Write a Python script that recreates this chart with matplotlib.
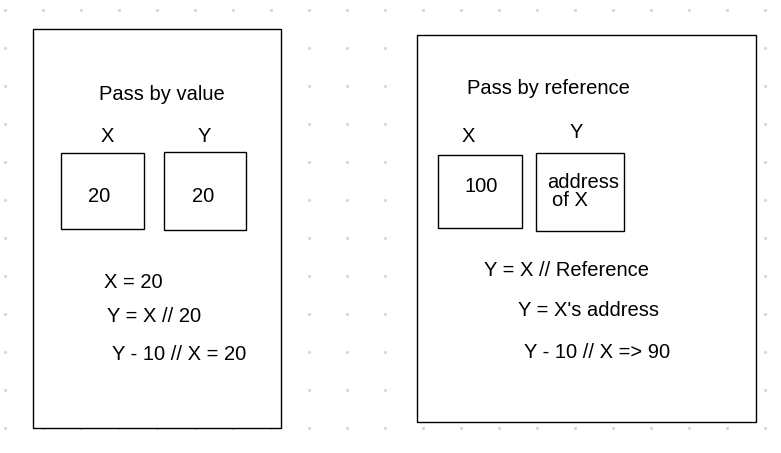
import matplotlib.pyplot as plt
from matplotlib.patches import Rectangle

# panels: (x0, y0, x1, y1) in pixels
panels = [(33, 29, 281, 428), (417, 35, 756, 422)]
cells = [(61, 153, 144, 229), (164, 152, 246, 230),
         (438, 155, 522, 228), (536, 153, 624, 231)]

# text items: (x, y, text, align)
labels = [
    (162, 95, "Pass by value", "center"),
    (107, 136, "X", "center"),
    (204, 137, "Y", "center"),
    (99, 197, "20", "center"),
    (203, 197, "20", "center"),
    (104, 283, "X = 20", "left"),
    (107, 317, "Y = X // 20", "left"),
    (112, 354, "Y - 10 // X = 20", "left"),
    (467, 89, "Pass by reference", "left"),
    (468, 136, "X", "center"),
    (576, 132, "Y", "center"),
    (481, 187, "100", "center"),
    (547, 183, "address", "left"),
    (552, 201, "of X", "left"),
    (484, 271, "Y = X // Reference", "left"),
    (518, 311, "Y = X's address", "left"),
    (524, 353, "Y - 10 // X => 90", "left"),
]

W, H = 781, 453
fig = plt.figure(figsize=(W / 100, H / 100), dpi=100)
ax = fig.add_axes([0, 0, 1, 1])
ax.set_xlim(0, W)
ax.set_ylim(H, 0)
ax.axis("off")

# dotted grid background
for gx in range(5, W, 38):
    for gy in range(10, H, 38):
        ax.plot(gx, gy, "o", ms=1.3, color="#d8d8d8", zorder=0)

for x0, y0, x1, y1 in panels:
    ax.add_patch(Rectangle((x0, y0), x1 - x0, y1 - y0, fill=True,
                           facecolor="white", edgecolor="black", lw=1, zorder=1))
for x0, y0, x1, y1 in cells:
    ax.add_patch(Rectangle((x0, y0), x1 - x0, y1 - y0, fill=False,
                           edgecolor="black", lw=1, zorder=2))

for x, y, t, ha in labels:
    ax.text(x, y, t, ha=ha, va="center", fontsize=14.5,
            family="Liberation Sans", zorder=3)

fig.savefig("out.png", dpi=100)
